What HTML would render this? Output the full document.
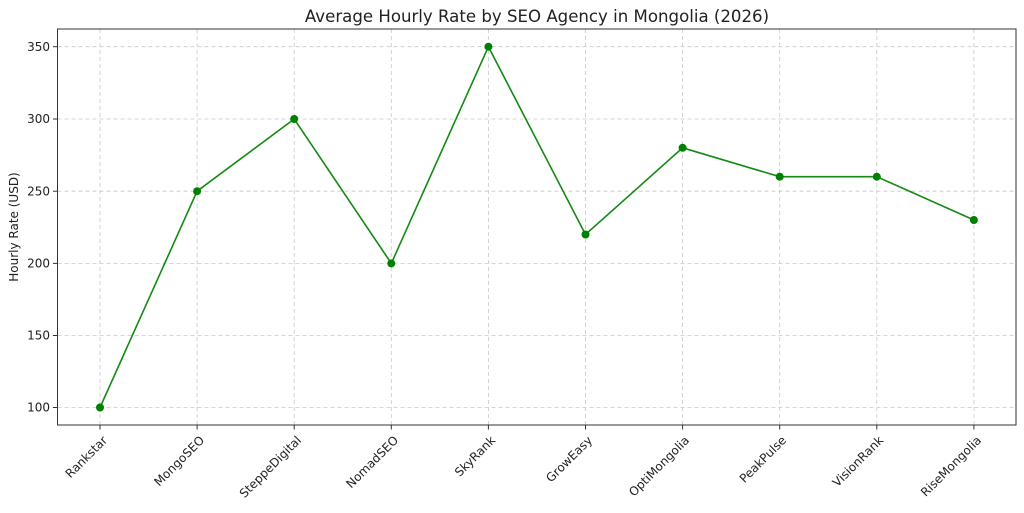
<!DOCTYPE html>
<html><head><meta charset="utf-8"><style>body{margin:0;background:#fff}</style></head><body>
<svg width="1024" height="508" xmlns="http://www.w3.org/2000/svg" font-family="DejaVu Sans, Liberation Sans, sans-serif">
<text x="537" y="22" text-anchor="middle" font-size="16.6" fill="#222">Average Hourly Rate by SEO Agency in Mongolia (2026)</text>
<g stroke="#c8c8c8" stroke-dasharray="4,3" stroke-width="0.8">
<line x1="57.5" x2="1016" y1="46.7" y2="46.7"/><line x1="57.5" x2="1016" y1="119" y2="119"/><line x1="57.5" x2="1016" y1="191.2" y2="191.2"/><line x1="57.5" x2="1016" y1="263.4" y2="263.4"/><line x1="57.5" x2="1016" y1="335.5" y2="335.5"/><line x1="57.5" x2="1016" y1="407.5" y2="407.5"/>
<line y1="29" y2="425" x1="100" x2="100"/><line y1="29" y2="425" x1="197.1" x2="197.1"/><line y1="29" y2="425" x1="294.2" x2="294.2"/><line y1="29" y2="425" x1="391.3" x2="391.3"/><line y1="29" y2="425" x1="488.4" x2="488.4"/><line y1="29" y2="425" x1="585.5" x2="585.5"/><line y1="29" y2="425" x1="682.6" x2="682.6"/><line y1="29" y2="425" x1="779.7" x2="779.7"/><line y1="29" y2="425" x1="876.8" x2="876.8"/><line y1="29" y2="425" x1="973.9" x2="973.9"/>
</g>
<rect x="57.5" y="29" width="958.5" height="396" fill="none" stroke="#333" stroke-width="1"/>
<g stroke="#333"><line x1="53" x2="57.5" y1="46.7" y2="46.7"/><line x1="53" x2="57.5" y1="119" y2="119"/><line x1="53" x2="57.5" y1="191.2" y2="191.2"/><line x1="53" x2="57.5" y1="263.4" y2="263.4"/><line x1="53" x2="57.5" y1="335.5" y2="335.5"/><line x1="53" x2="57.5" y1="407.5" y2="407.5"/>
<line y1="425" y2="429.5" x1="100" x2="100"/><line y1="425" y2="429.5" x1="197.1" x2="197.1"/><line y1="425" y2="429.5" x1="294.2" x2="294.2"/><line y1="425" y2="429.5" x1="391.3" x2="391.3"/><line y1="425" y2="429.5" x1="488.4" x2="488.4"/><line y1="425" y2="429.5" x1="585.5" x2="585.5"/><line y1="425" y2="429.5" x1="682.6" x2="682.6"/><line y1="425" y2="429.5" x1="779.7" x2="779.7"/><line y1="425" y2="429.5" x1="876.8" x2="876.8"/><line y1="425" y2="429.5" x1="973.9" x2="973.9"/></g>
<g font-size="12" fill="#222" text-anchor="end">
<text x="50" y="51">350</text><text x="50" y="123">300</text><text x="50" y="195.5">250</text><text x="50" y="267.5">200</text><text x="50" y="339.5">150</text><text x="50" y="411.5">100</text>
</g>
<text transform="translate(18,227) rotate(-90)" text-anchor="middle" font-size="12" fill="#222">Hourly Rate (USD)</text>
<g font-size="12" fill="#222" text-anchor="end">
<text transform="translate(108,441) rotate(-45)">Rankstar</text>
<text transform="translate(205,441) rotate(-45)">MongoSEO</text>
<text transform="translate(302,441) rotate(-45)">SteppeDigital</text>
<text transform="translate(399,441) rotate(-45)">NomadSEO</text>
<text transform="translate(496,441) rotate(-45)">SkyRank</text>
<text transform="translate(593,441) rotate(-45)">GrowEasy</text>
<text transform="translate(690,441) rotate(-45)">OptiMongolia</text>
<text transform="translate(787,441) rotate(-45)">PeakPulse</text>
<text transform="translate(884,441) rotate(-45)">VisionRank</text>
<text transform="translate(982,441) rotate(-45)">RiseMongolia</text>
</g>
<polyline fill="none" stroke="#138a13" stroke-width="1.6" points="100,407.5 197.1,191.2 294.2,119 391.3,263.4 488.4,46.7 585.5,234.5 682.6,147.8 779.7,176.7 876.8,176.7 973.9,220"/>
<g fill="#008000">
<circle cx="100" cy="407.5" r="4"/><circle cx="197.1" cy="191.2" r="4"/><circle cx="294.2" cy="119" r="4"/><circle cx="391.3" cy="263.4" r="4"/><circle cx="488.4" cy="46.7" r="4"/><circle cx="585.5" cy="234.5" r="4"/><circle cx="682.6" cy="147.8" r="4"/><circle cx="779.7" cy="176.7" r="4"/><circle cx="876.8" cy="176.7" r="4"/><circle cx="973.9" cy="220" r="4"/>
</g>
</svg>
</body></html>
